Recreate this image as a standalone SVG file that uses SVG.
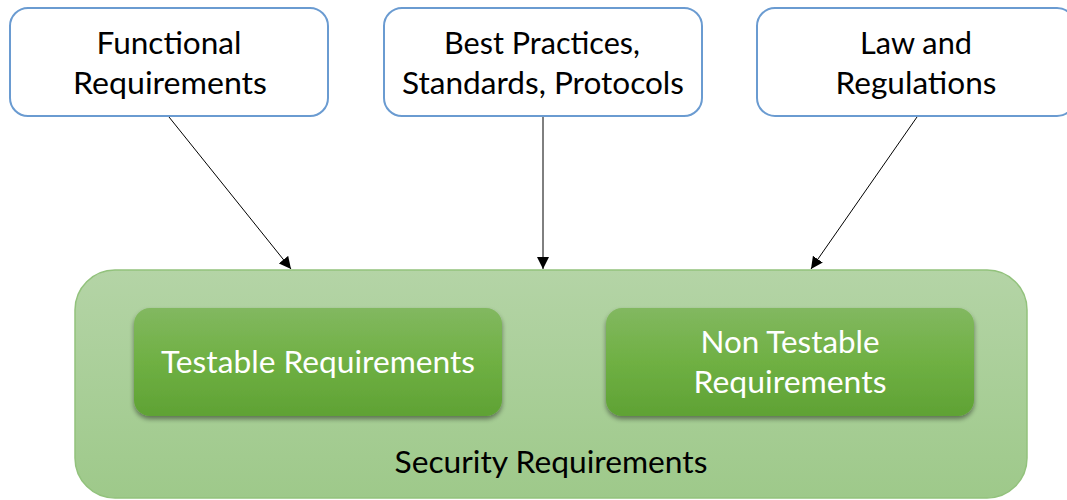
<svg xmlns="http://www.w3.org/2000/svg" width="1067" height="500" viewBox="0 0 1067 500">
<defs>
<style>
.src{fill:#fff;stroke:#6a9bd1;stroke-width:2}
.t{font-family:Lato,"Liberation Sans",sans-serif;font-size:30px;text-anchor:middle}
.dk{fill:#000}
.wt{fill:#fff}
.con{stroke:#000;stroke-width:1;fill:none;marker-end:url(#ah)}
</style>
<linearGradient id="gOuter" x1="0" y1="0" x2="0" y2="1">
<stop offset="0" stop-color="#b4d4a6"/>
<stop offset="1" stop-color="#9ec98a"/>
</linearGradient>
<linearGradient id="gInner" x1="0" y1="0" x2="0" y2="1">
<stop offset="0" stop-color="#82b860"/>
<stop offset="0.5" stop-color="#6fb043"/>
<stop offset="1" stop-color="#5fa234"/>
</linearGradient>
<filter id="sh" x="-10%" y="-10%" width="120%" height="130%">
<feGaussianBlur in="SourceAlpha" stdDeviation="2.5"/>
<feOffset dx="0" dy="3" result="b"/>
<feComponentTransfer><feFuncA type="linear" slope="0.45"/></feComponentTransfer>
<feMerge><feMergeNode/><feMergeNode in="SourceGraphic"/></feMerge>
</filter>
<marker id="ah" viewBox="0 0 10 10" refX="10" refY="5" markerWidth="12" markerHeight="12" markerUnits="userSpaceOnUse" orient="auto">
<path d="M0,0 L10,5 L0,10 z" fill="#000"/>
</marker>
</defs>
<g id="security">
<rect x="75" y="270" width="952" height="228" rx="40" fill="url(#gOuter)" stroke="#92c27c" stroke-width="1.5"/>
<text class="t dk" x="551" y="473" textLength="313" lengthAdjust="spacingAndGlyphs">Security Requirements</text>
</g>
<g id="functional">
<rect class="src" x="10" y="8" width="318" height="108" rx="18"/>
<text class="t dk" x="169" y="54" textLength="145" lengthAdjust="spacingAndGlyphs">Functional</text>
<text class="t dk" x="170" y="94" textLength="194" lengthAdjust="spacingAndGlyphs">Requirements</text>
</g>
<g id="best">
<rect class="src" x="384" y="8" width="318" height="108" rx="18"/>
<text class="t dk" x="542" y="54" textLength="196" lengthAdjust="spacingAndGlyphs">Best Practices,</text>
<text class="t dk" x="543" y="94" textLength="282" lengthAdjust="spacingAndGlyphs">Standards, Protocols</text>
</g>
<g id="law">
<rect class="src" x="757" y="8" width="318" height="108" rx="18"/>
<text class="t dk" x="916" y="54" textLength="112" lengthAdjust="spacingAndGlyphs">Law and</text>
<text class="t dk" x="916" y="94" textLength="161" lengthAdjust="spacingAndGlyphs">Regulations</text>
</g>
<g id="testable">
<rect x="134" y="308" width="368" height="108" rx="16" fill="url(#gInner)" filter="url(#sh)"/>
<text class="t wt" x="318" y="373" textLength="314" lengthAdjust="spacingAndGlyphs">Testable Requirements</text>
</g>
<g id="nontestable">
<rect x="606" y="308" width="368" height="108" rx="16" fill="url(#gInner)" filter="url(#sh)"/>
<text class="t wt" x="790" y="353" textLength="179" lengthAdjust="spacingAndGlyphs">Non Testable</text>
<text class="t wt" x="790" y="393" textLength="193" lengthAdjust="spacingAndGlyphs">Requirements</text>
</g>
<g id="connectors">
<line class="con" x1="169" y1="117" x2="291" y2="269"/>
<line class="con" x1="543" y1="117" x2="543" y2="269"/>
<line class="con" x1="917" y1="117" x2="811" y2="269"/>
</g>
</svg>
